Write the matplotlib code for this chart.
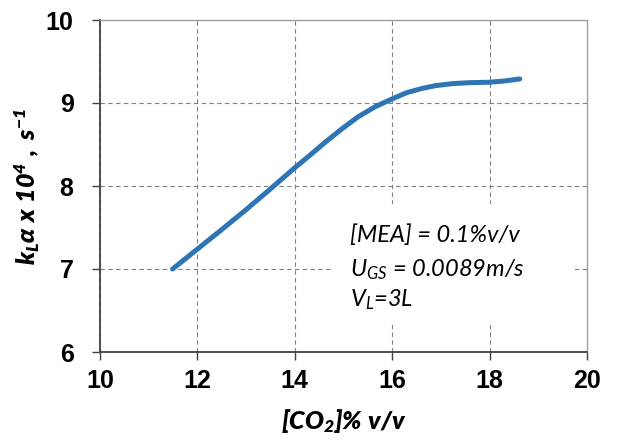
import matplotlib
matplotlib.use("Agg")
import matplotlib.pyplot as plt
from matplotlib.patches import Rectangle
from matplotlib.font_manager import FontProperties

co2 = [11.49, 12.0, 12.51, 13.01, 13.47, 14.0, 14.33, 14.63, 14.97, 15.29, 15.65, 16.0, 16.3, 16.61, 16.9, 17.27, 17.6, 18.0, 18.3, 18.62]
kla = [7.0, 7.24, 7.48, 7.72, 7.95, 8.22, 8.38, 8.53, 8.69, 8.83, 8.955, 9.05, 9.125, 9.175, 9.21, 9.235, 9.245, 9.25, 9.265, 9.29]
xticks = [10, 12, 14, 16, 18, 20]
yticks = [6, 7, 8, 9, 10]
notes = [r"[MEA] = 0.1%v/v", r"U$_{GS}$ = 0.0089m/s", r"V$_L$=3L"]

plt.rcParams["font.family"] = "Liberation Sans"
plt.rcParams["font.weight"] = "bold"
plt.rcParams["font.size"] = 17
plt.rcParams["mathtext.fontset"] = "custom"
plt.rcParams["mathtext.it"] = "Lato:style=italic:weight=normal"
plt.rcParams["mathtext.rm"] = "Lato:style=italic:weight=normal"
plt.rcParams["mathtext.bf"] = "Lato:style=italic:weight=heavy"

fig = plt.figure(figsize=(6.2, 4.46), dpi=100)
ax = fig.add_axes([100/620, 1-352/446, 487/620, 332/446])

ax.plot(co2, kla, color="#2E75B6", lw=3.6, solid_capstyle="round",
        solid_joinstyle="round", zorder=3)
ax.set_xlim(10, 20)
ax.set_ylim(6, 10)
tp = FontProperties(family="Liberation Sans", weight="bold", size=18)
ax.set_xticks(xticks)
ax.set_xticklabels([str(v) for v in xticks], fontproperties=tp)
ax.set_yticks(yticks)
ax.set_yticklabels([str(v) for v in yticks], fontproperties=tp)
ax.grid(True, ls=(0, (4, 3)), color="#808080", lw=0.8, zorder=0)
ax.set_axisbelow(True)

for s in ax.spines.values():
    s.set_color("#A0A0A0")
    s.set_linewidth(1.0)
ax.spines["left"].set_color("#404040")
ax.spines["bottom"].set_color("#404040")
ax.spines["left"].set_linewidth(1.3)
ax.spines["bottom"].set_linewidth(1.3)

ax.tick_params(direction="out", length=6, width=1.0, color="#404040")
ax.tick_params(axis="y", pad=13)
ax.tick_params(axis="x", pad=6)

ax.set_xlabel(r"$\mathbf{[CO_2]\%\ v/v}$", fontsize=18, labelpad=10)
ax.set_ylabel(r"$\mathbf{k_L\alpha\ x\ 10^4\ ,\ s^{-1}}$", fontsize=18, labelpad=3)

ax.add_patch(Rectangle((0.48, 0.081), 0.49, 0.365, transform=ax.transAxes,
                       facecolor="white", edgecolor="none", zorder=1))
ys = [0.352, 0.249, 0.157]
for t, yy in zip(notes, ys):
    ax.text(0.513, yy, t, transform=ax.transAxes, fontsize=17,
            family="Lato", style="italic", weight="normal",
            va="center", ha="left", zorder=4)

fig.savefig("out.png", dpi=100)
